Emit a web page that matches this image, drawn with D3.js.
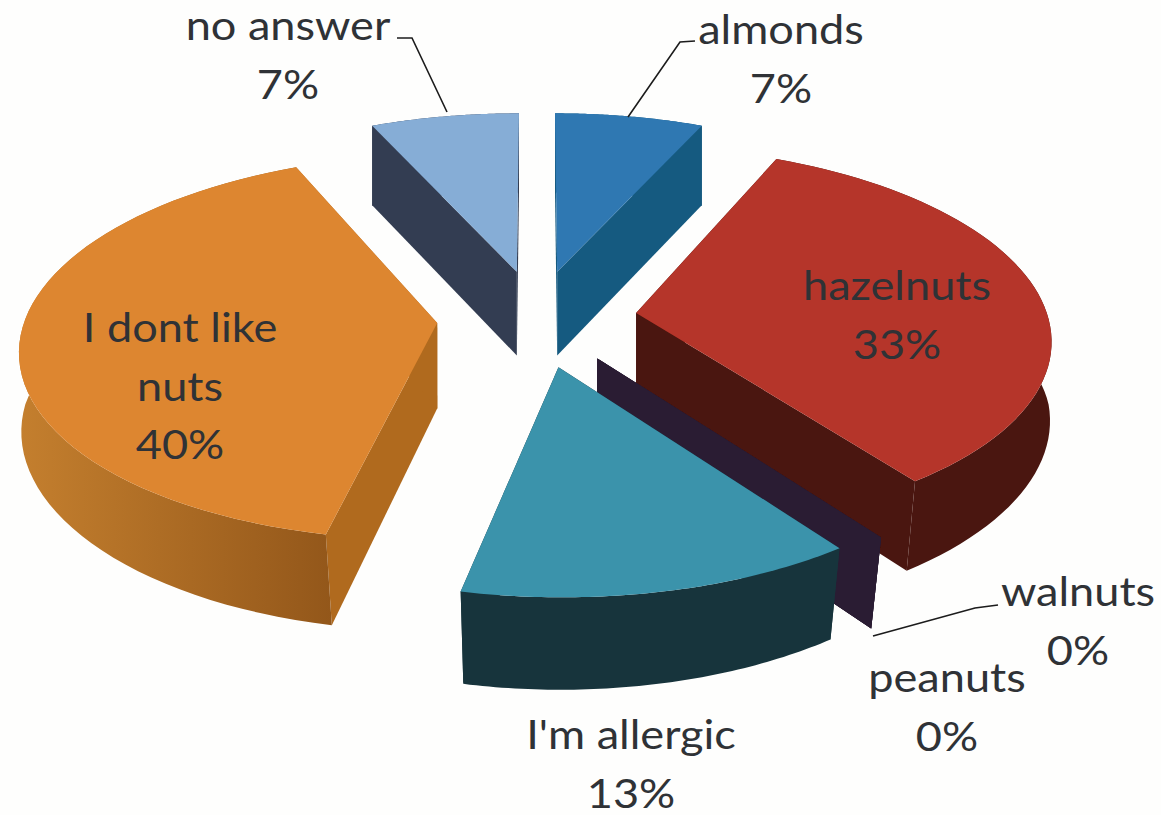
<!DOCTYPE html>
<html>
<head>
<meta charset="utf-8">
<script src="https://cdn.jsdelivr.net/npm/d3@7/dist/d3.min.js"></script>
<style>
html, body { margin: 0; padding: 0; background: #fefefd; }
svg { display: block; }
text { font-family: Lato, "Open Sans", sans-serif; font-size: 41px; text-anchor: middle; fill: #2f3236; }
</style>
</head>
<body>
<svg id="chart"></svg>
<script>
var categories = ['almonds', 'hazelnuts', 'walnuts', 'peanuts', "I'm allergic", 'I dont like nuts', 'no answer'];
var percents = [6.67, 33.33, 0, 0, 13.33, 40, 6.67];

var topColors = ['#2f78b2', '#b5352a', '#2a1c33', '#2a1c33', '#3b93ab', '#dd8630', '#86add6'];
var faceColors = ['#155a80', '#4a1610', '#2a1c33', '#2a1c33', '#17343c', '#b06a1e', '#333d52'];
var arcLeft = ['#155a80', '#4a1610', '#2a1c33', '#2a1c33', '#17343c', '#c47f2e', '#333d52'];
var arcRight = ['#155a80', '#4a1610', '#2a1c33', '#2a1c33', '#17343c', '#93571a', '#333d52'];

// label lines and anchor of first line, line step is constant
var labelLines = [['almonds', '7%'], ['hazelnuts', '33%'], ['walnuts', '0%'], ['peanuts', '0%'],
  ["I'm allergic", '13%'], ['I dont like', 'nuts', '40%'], ['no answer', '7%']];
var labelAt = [[781, 44], [897, 300], [1078, 606], [947, 692], [631, 749], [180, 342], [288, 40]];

var leaders = [
  [[695, 41], [680, 42], [628, 117]],
  [[998, 605], [975, 608], [873, 636]],
  [[397, 38], [412, 38], [447, 112]]
];

var width = 1161, height = 815;
var cx = 537, cy = 318, R = 412, explode = 100, depth = 85, tilt = 0.487, persp = 0.131, flatten = 0.94;

var svg = d3.select('#chart').attr('width', width).attr('height', height);
var defs = svg.append('defs');

function project(X, Z, H) {
  var s = 1 / (1 - persp * Z / R);
  var lean = 1 - 0.03 * Math.max(0, Z / R) * H / depth;
  return [cx + X * s * lean, cy + Z * tilt * s + H * Math.sqrt(s)];
}

// ground plane point of a pie angle, 0 = back of the pie, clockwise
function ground(a, r, mid) {
  return [explode * Math.sin(mid) + r * Math.sin(a), -explode * Math.cos(mid) - r * flatten * Math.cos(a)];
}

var pie = d3.pie().sort(null).value(function (d) { return d; });
var arcs = pie(percents);
var line = d3.line();

var order = d3.range(arcs.length).sort(function (a, b) {
  var ma = (arcs[a].startAngle + arcs[a].endAngle) / 2;
  var mb = (arcs[b].startAngle + arcs[b].endAngle) / 2;
  return Math.cos(mb) - Math.cos(ma);
});

order.forEach(function (i) {
  var d = arcs[i];
  var mid = (d.startAngle + d.endAngle) / 2;
  var g = svg.append('g').attr('class', 'slice');
  var apex = ground(mid, 0, mid);
  var steps = d3.range(0, 61).map(function (k) {
    var a = d.startAngle + (d.endAngle - d.startAngle) * k / 60;
    return ground(a, R, mid);
  });

  var gradId = 'side' + i;
  var grad = defs.append('linearGradient').attr('id', gradId);
  grad.append('stop').attr('offset', '0%').attr('stop-color', arcLeft[i]);
  grad.append('stop').attr('offset', '100%').attr('stop-color', arcRight[i]);

  // the two radial walls
  [steps[0], steps[60]].forEach(function (p) {
    g.append('path')
      .attr('d', line([project(apex[0], apex[1], 0), project(p[0], p[1], 0),
        project(p[0], p[1], depth), project(apex[0], apex[1], depth)]) + 'Z')
      .attr('fill', faceColors[i]);
  });

  // outer rim
  if (d.endAngle > d.startAngle) {
    var rim = steps.map(function (p) { return project(p[0], p[1], 0); })
      .concat(steps.slice().reverse().map(function (p) { return project(p[0], p[1], depth); }));
    g.append('path').attr('d', line(rim) + 'Z').attr('fill', 'url(#' + gradId + ')');
  }

  // top face
  g.append('path')
    .attr('d', line([project(apex[0], apex[1], 0)].concat(steps.map(function (p) { return project(p[0], p[1], 0); }))) + 'Z')
    .attr('fill', topColors[i]);
});

svg.selectAll('path.leader')
  .data(leaders)
  .enter()
  .append('path')
  .attr('class', 'leader')
  .attr('d', function (d) { return line(d); })
  .attr('fill', 'none')
  .attr('stroke', '#1c1c1c')
  .attr('stroke-width', 1.6);

labelLines.forEach(function (lines, i) {
  lines.forEach(function (t, j) {
    svg.append('text')
      .attr('transform', 'translate(' + labelAt[i][0] + ',' + (labelAt[i][1] + j * 58.5) + ') scale(1.1,1)')
      .text(t);
  });
});
</script>
</body>
</html>
